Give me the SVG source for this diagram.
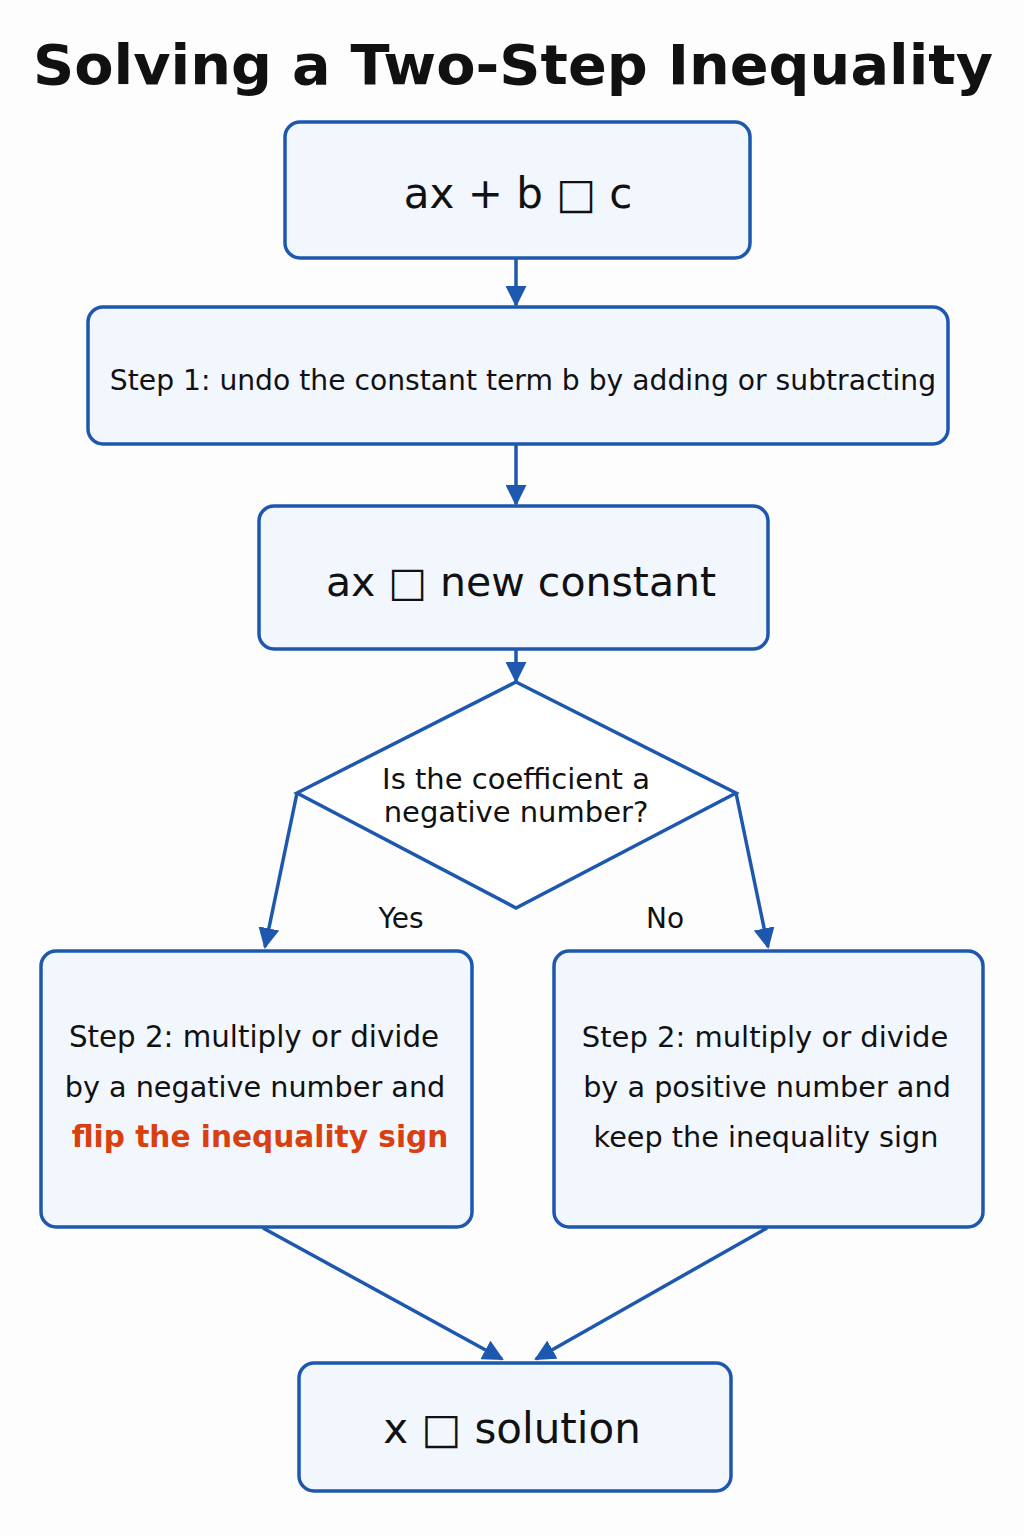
<svg xmlns="http://www.w3.org/2000/svg" width="1024" height="1536" viewBox="0 0 1024 1536">
<defs>
<marker id="ah" viewBox="0 0 10 10" refX="9" refY="5" markerWidth="6" markerHeight="6" markerUnits="strokeWidth" orient="auto">
<path d="M0,0 L10,5 L0,10 z" fill="#1e58ae"/>
</marker>
<style>
.box{fill:#f2f6fd;stroke:#1e58ae;stroke-width:3.5}
.dia{fill:#ffffff;stroke:#1e58ae;stroke-width:3.5}
.con{fill:none;stroke:#1e58ae;stroke-width:3.5;marker-end:url(#ah)}
.t{font-family:"DejaVu Sans","Liberation Sans",sans-serif;fill:#111111;text-anchor:middle}
.title{font-family:"DejaVu Sans","Liberation Sans",sans-serif;font-weight:bold;fill:#111111;text-anchor:middle;font-size:56px}
.hl{font-weight:bold;fill:#d9400f}
</style>
</defs>
<rect width="1024" height="1536" fill="#fdfdfe"/>
<text class="title" x="513" y="84" textLength="960" lengthAdjust="spacingAndGlyphs">Solving a Two-Step Inequality</text>

<g id="connectors">
<line class="con" x1="516" y1="259" x2="516" y2="305"/>
<line class="con" x1="516" y1="445" x2="516" y2="504"/>
<line class="con" x1="516" y1="650" x2="516" y2="681"/>
<line class="con" x1="297" y1="793" x2="265" y2="947"/>
<line class="con" x1="736" y1="793" x2="768" y2="947"/>
<line class="con" x1="263" y1="1228" x2="502" y2="1359"/>
<line class="con" x1="767" y1="1228" x2="536" y2="1359"/>
</g>

<g id="start">
<rect class="box" x="285" y="122" width="465" height="136" rx="15"/>
<text class="t" x="518" y="208" font-size="42">ax + b □ c</text>
</g>

<g id="step1">
<rect class="box" x="88" y="307" width="860" height="137" rx="15"/>
<text class="t" x="523" y="390" font-size="28.2">Step 1: undo the constant term b by adding or subtracting</text>
</g>

<g id="intermediate">
<rect class="box" x="259" y="506" width="509" height="143" rx="15"/>
<text class="t" x="521" y="596" font-size="41">ax □ new constant</text>
</g>

<g id="decision">
<polygon class="dia" points="516,682 736,793 516,908 297,793"/>
<text class="t" x="516" y="789" font-size="29">Is the coefficient a</text>
<text class="t" x="516" y="822" font-size="29">negative number?</text>
</g>

<g id="labels">
<text class="t" x="401" y="928" font-size="28">Yes</text>
<text class="t" x="665" y="928" font-size="28">No</text>
</g>

<g id="step2neg">
<rect class="box" x="41" y="951" width="431" height="276" rx="15"/>
<text class="t" x="254" y="1047" font-size="29.3">Step 2: multiply or divide</text>
<text class="t" x="255" y="1097" font-size="28.7">by a negative number and</text>
<text class="t hl" x="260" y="1147" font-size="29.6">flip the inequality sign</text>
</g>

<g id="step2pos">
<rect class="box" x="554" y="951" width="429" height="276" rx="15"/>
<text class="t" x="765" y="1047" font-size="29">Step 2: multiply or divide</text>
<text class="t" x="767" y="1097" font-size="28.7">by a positive number and</text>
<text class="t" x="766" y="1147" font-size="28.7">keep the inequality sign</text>
</g>

<g id="solution">
<rect class="box" x="299" y="1363" width="432" height="128" rx="15"/>
<text class="t" x="512" y="1443" font-size="42">x □ solution</text>
</g>
</svg>
